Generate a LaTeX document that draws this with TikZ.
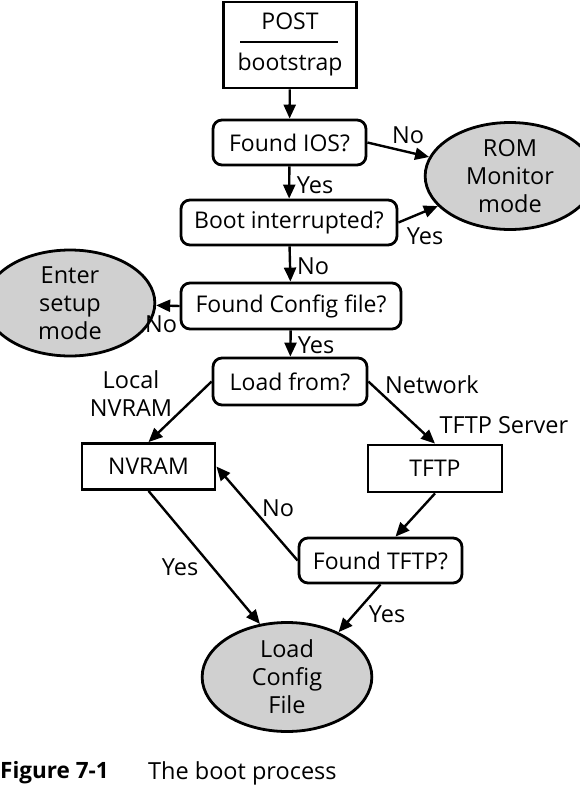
\documentclass[tikz,border=0pt]{standalone}
\usepackage{fontspec}
\setmainfont{Open Sans}
\usetikzlibrary{shapes.geometric,arrows.meta}
\definecolor{ellfill}{RGB}{208,208,208}
\tikzset{
  every node/.style={font=\fontsize{23}{27}\selectfont},
  rbox/.style={draw, line width=2.8pt, rounded corners=9pt, inner sep=0pt},
  sbox/.style={draw, line width=2.8pt, inner sep=0pt},
  oval/.style={draw, ellipse, line width=2.8pt, fill=ellfill, inner sep=0pt, align=center, text width=120pt,
     font=\fontsize{23.5}{28}\selectfont},
  arr/.style={line width=2.4pt, -{Triangle[length=14pt,width=12pt]}},
  lbl/.style={inner sep=0pt, align=center, font=\fontsize{23.5}{28}\selectfont}
}
\begin{document}
\begin{tikzpicture}[x=1pt,y=-1pt]
\useasboundingbox (0,0) rectangle (579,788);
% boxes
\node[sbox, minimum width=133pt, minimum height=86pt] (post) at (290,45) {};
\node[inner sep=0pt] (posttxt) at (290,21) {POST};
\node[inner sep=0pt] (boottxt) at (290,65) {bootstrap};
\draw[line width=1.6pt] (240,42) -- (338,42);
\node[rbox, minimum width=153pt, minimum height=45pt] (fios) at (289.5,142.5) {Found IOS?};
\node[rbox, minimum width=216pt, minimum height=45pt] (bint) at (289,222.5) {Boot interrupted?};
\node[rbox, minimum width=220pt, minimum height=46pt] (fcfg) at (291,306) {Found Config file?};
\node[rbox, minimum width=154pt, minimum height=47pt] (lfrom) at (290,381.5) {Load from?};
\node[sbox, minimum width=133pt, minimum height=46pt] (nv) at (148.5,466.5) {NVRAM};
\node[sbox, minimum width=134pt, minimum height=47pt] (tftp) at (435,468.5) {TFTP};
\node[rbox, minimum width=163pt, minimum height=45pt] (ftftp) at (380.5,560.5) {Found TFTP?};
% ellipses
\node[oval, minimum width=134pt, minimum height=107pt] (rom) at (510,176) {ROM\\Monitor\\mode};
\node[oval, minimum width=134pt, minimum height=106pt] (setup) at (70,303) {Enter\\setup\\mode};
\node[oval, minimum width=134pt, minimum height=109pt] (lc) at (287,677) {Load\\Config\\File};
% arrows
\draw[arr] (post) -- (fios);
\draw[arr] (fios) -- (bint);
\draw[arr] (bint) -- (fcfg);
\draw[arr] (fcfg) -- (lfrom);
\draw[arr] (fios.east) -- (rom);
\draw[arr] (bint.east) -- (rom);
\draw[arr] (fcfg.west) -- (setup);
\draw[arr] (lfrom.west) -- (nv.north);
\draw[arr] (lfrom.east) -- (tftp.north);
\draw[arr] (tftp.south) -- ([xshift=15pt]ftftp.north);
\draw[arr] (ftftp.west) -- (nv.east);
\draw[arr] (nv.south) -- (lc.117);
\draw[arr] (ftftp.south) -- (lc.41);
% labels
\node[lbl] (l1) at (408,135) {No};
\node[lbl] (l2) at (425,236) {Yes};
\node[lbl] (l3) at (315,185) {Yes};
\node[lbl] (l4) at (313,266) {No};
\node[lbl] (l5) at (161,324) {No};
\node[lbl] (l6) at (316,345) {Yes};
\node[lbl] (l7) at (131,394) {Local\\NVRAM};
\node[lbl] (l8) at (432,385) {Network};
\node[lbl] (l9) at (504,425) {TFTP Server};
\node[lbl] (l10) at (278,508) {No};
\node[lbl] (l11) at (180,567) {Yes};
\node[lbl] (l12) at (387,614) {Yes};
% caption
\node[inner sep=0pt, anchor=west, font=\fontsize{22.5}{26}\selectfont\bfseries] (capa) at (0,773) {Figure 7-1};
\node[inner sep=0pt, anchor=west, font=\fontsize{23.5}{27}\selectfont] (capb) at (148,773) {The boot process};
\end{tikzpicture}
\end{document}
